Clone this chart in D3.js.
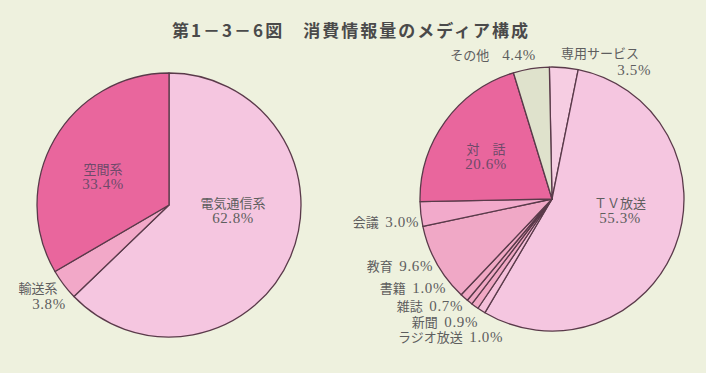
<!DOCTYPE html>
<html><head><meta charset="utf-8">
<script src="https://cdn.jsdelivr.net/npm/d3@7"></script>
<style>
body{margin:0;background:#eef1de;}
svg{display:block;}
</style></head>
<body>
<svg id="c" width="706" height="373"></svg>
<script>
const title = "第1－3－6図　消費情報量のメディア構成";
const leftNames = ["電気通信系","輸送系","空間系"];
const leftValues = [62.8, 3.8, 33.4];
const leftColors = ["#f5c6e0","#f2a8c8","#e9669d"];
const rightNames = ["専用サービス","TV放送","ラジオ放送","新聞","雑誌","書籍","教育","会議","対話","その他"];
const rightValues = [3.5, 55.3, 1.0, 0.9, 0.7, 1.0, 9.6, 3.0, 20.6, 4.4];
const rightColors = ["#f6cde2","#f5c6e0","#f5c0da","#f0a8c4","#f0a8c4","#f0a8c4","#f0a8c6","#f2aacb","#e9669d","#dfe2cc"];

const svg = d3.select("#c");
const font = "'Liberation Serif','Noto Sans CJK JP',serif";

svg.append("text").attr("x", 351).attr("y", 37).attr("text-anchor","middle")
  .attr("font-family","'Noto Sans CJK JP',sans-serif").attr("font-weight","bold")
  .attr("font-size", 17).attr("letter-spacing", 2).attr("fill","#4a4a4a").text(title);

function drawPie(cx, cy, r, values, colors, start) {
  const pie = d3.pie().sort(null).value(d => d).startAngle(start).endAngle(start + 2*Math.PI);
  const arc = d3.arc().innerRadius(0).outerRadius(r);
  const g = svg.append("g").attr("transform", `translate(${cx},${cy})`);
  g.selectAll("path").data(pie(values)).join("path")
    .attr("d", arc).attr("fill", (d,i) => colors[i])
    .attr("stroke", "#5a3a4a").attr("stroke-width", 1.3).attr("stroke-linejoin","round");
}
drawPie(169, 205, 132, leftValues, leftColors, 0);
drawPie(552, 199, 132, rightValues, rightColors, -0.02);

function label(x, y, lines, fill, anchor) {
  const t = svg.append("text").attr("font-family", font).attr("font-size", 13)
    .attr("fill", fill).attr("text-anchor", anchor || "middle");
  lines.forEach((s, i) => {
    const runs = s.match(/[0-9.%]+|[^0-9.%]+/g);
    runs.forEach((run, j) => {
      const sp = t.append("tspan").text(run);
      if (j === 0) sp.attr("x", x).attr("y", y + i*15);
      if (/[0-9]/.test(run)) sp.attr("font-size", 15).attr("letter-spacing", 0.6);
    });
  });
}
const gap = "\u2002";
const inCol = "#6e4a6a", outCol = "#5e5e5e";
label(103, 174, [leftNames[2], leftValues[2].toFixed(1)+"%"], inCol);
label(233, 208, [leftNames[0], leftValues[0].toFixed(1)+"%"], outCol);
label(38, 293, [leftNames[1]], outCol);
label(49, 309, [leftValues[1].toFixed(1)+"%"], outCol);

label(486, 154, ["対　話", rightValues[8].toFixed(1)+"%"], inCol);
label(620, 208, ["ＴＶ放送", rightValues[1].toFixed(1)+"%"], outCol);
label(493, 60, [rightNames[9] + "　" + rightValues[9].toFixed(1)+"%"], outCol);
label(600, 58, [rightNames[0]], outCol);
label(651, 75, [rightValues[0].toFixed(1)+"%"], outCol, "end");
label(419, 227, [rightNames[7] + gap + rightValues[7].toFixed(1)+"%"], outCol, "end");
label(433, 271, [rightNames[6] + gap + rightValues[6].toFixed(1)+"%"], outCol, "end");
label(446, 293, [rightNames[5] + gap + rightValues[5].toFixed(1)+"%"], outCol, "end");
label(463, 311, [rightNames[4] + gap + rightValues[4].toFixed(1)+"%"], outCol, "end");
label(478, 327, [rightNames[3] + gap + rightValues[3].toFixed(1)+"%"], outCol, "end");
label(503, 342, [rightNames[2] + gap + rightValues[2].toFixed(1)+"%"], outCol, "end");
</script>
</body></html>
